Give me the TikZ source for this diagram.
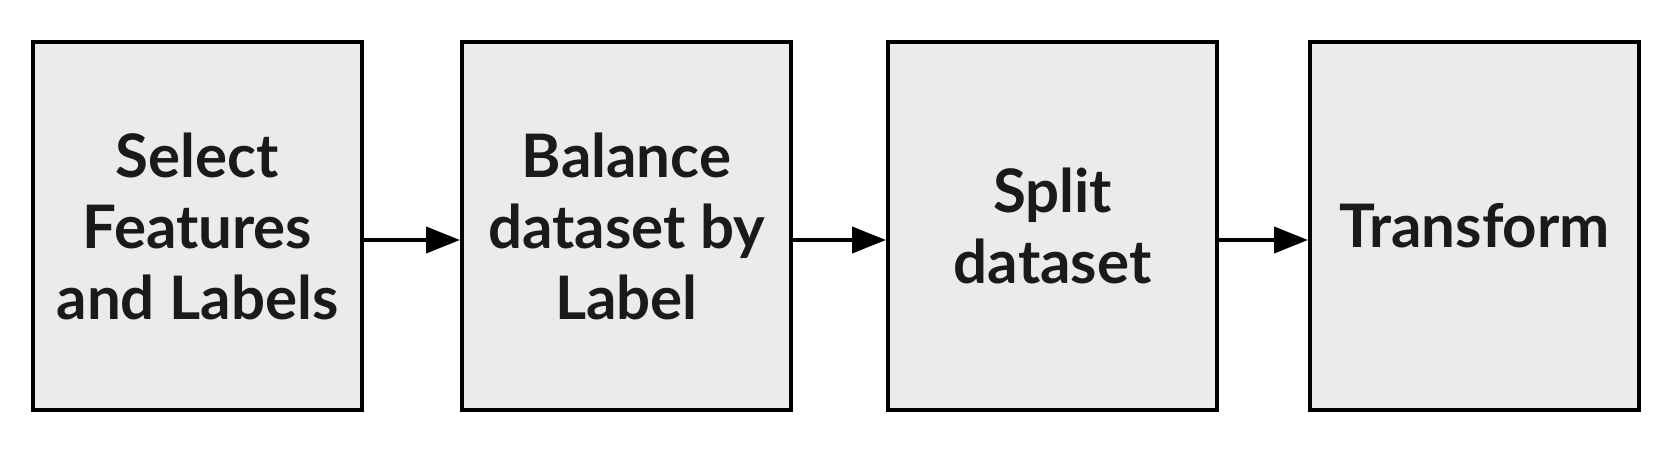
\documentclass[tikz,border=0pt]{standalone}
\usepackage{fontspec}
\setmainfont{Lato}
\usetikzlibrary{arrows.meta}

\definecolor{boxfill}{RGB}{235,235,235}
\definecolor{inkcol}{RGB}{26,26,26}

\tikzset{every picture/.style={line width=2pt}}
\tikzset{
  stepbox/.style={draw=black, fill=boxfill, minimum width=164.5pt, minimum height=184pt,
    inner sep=0pt, align=center, text=inkcol, font=\fontsize{30}{35.5}\selectfont\bfseries},
  flowarrow/.style={-{Triangle[length=17pt,width=13pt]}, line width=2pt}
}

\begin{document}
\begin{tikzpicture}[x=0.5pt,y=0.5pt,yscale=-1,xscale=1]
	%set diagram size to the reference
	\useasboundingbox (0,0) rectangle (1676,476);

	% Boxes
	\node [stepbox] (select) at (197.5,226) {Select\\Features\\and Labels};
	\node [stepbox] (balance) at (626.5,226) {Balance\\dataset by\\Label};
	\node [stepbox] (split) at (1052.5,226) {Split\\dataset};
	\node [stepbox] (transform) at (1474.5,226) {Transform};

	% Arrows
	\draw [flowarrow] ([yshift=7pt]select.east) -- ([yshift=7pt]balance.west) ;
	\draw [flowarrow] ([yshift=7pt]balance.east) -- ([yshift=7pt]split.west) ;
	\draw [flowarrow] ([yshift=7pt]split.east) -- ([yshift=7pt]transform.west) ;

\end{tikzpicture}
\end{document}
